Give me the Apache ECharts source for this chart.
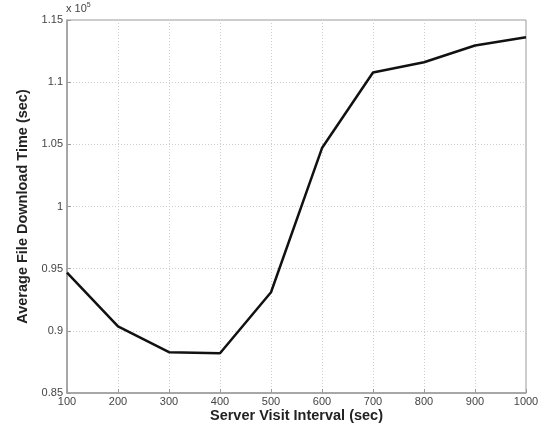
<!DOCTYPE html>
<html>
<head>
<meta charset="utf-8">
<script src="https://cdn.jsdelivr.net/npm/echarts@6/dist/echarts.min.js"></script>
<style>html,body{margin:0;padding:0;background:#fff}#c{width:541px;height:428px}</style>
</head>
<body>
<div id="c"></div>
<script>
// Server visit interval (sec)
var intervals = [100, 200, 300, 400, 500, 600, 700, 800, 900, 1000];
// Average file download time (sec)
var downloadTime = [94680, 90350, 88280, 88200, 93100, 104700, 110780, 111600, 112950, 113620];
var yTicks = [85000, 90000, 95000, 100000, 105000, 110000, 115000];
var xTicks = [100, 200, 300, 400, 500, 600, 700, 800, 900, 1000];

var chart = echarts.init(document.getElementById('c'));
var fontFam = '"Liberation Sans", Arial, sans-serif';
var data = intervals.map(function (x, i) { return [x, downloadTime[i]]; });

chart.setOption({
  backgroundColor: '#fff',
  animation: false,
  grid: { left: 67, top: 20, right: 15, bottom: 35, show: true, borderColor: '#9a9a9a', borderWidth: 1,
          containLabel: false, outerBoundsMode: 'none' },
  xAxis: [{
    type: 'value', min: xTicks[0], max: xTicks[xTicks.length - 1], interval: 100,
    axisLine: { show: true, lineStyle: { color: '#9a9a9a', width: 1.5 } },
    axisTick: { show: true, inside: true, length: 4, lineStyle: { color: '#9a9a9a' } },
    axisLabel: { color: '#444', fontSize: 11, fontFamily: fontFam, margin: 3,
      formatter: function (v) { return String(v); } },
    splitLine: { show: true, lineStyle: { color: '#cfcfcf', type: [1, 2], width: 1 } },
    name: 'Server Visit Interval (sec)', nameLocation: 'middle', nameGap: 15, nameMoveOverlap: false,
    nameTextStyle: { color: '#222', fontSize: 14.5, fontWeight: 'bold', fontFamily: fontFam }
  }],
  yAxis: [{
    type: 'value', min: yTicks[0], max: yTicks[yTicks.length - 1], interval: 5000,
    axisLine: { show: true, lineStyle: { color: '#9a9a9a', width: 1.5 } },
    axisTick: { show: true, inside: true, length: 4, lineStyle: { color: '#9a9a9a' } },
    axisLabel: { color: '#444', fontSize: 11, fontFamily: fontFam, margin: 4,
      formatter: function (v) { return String(Math.round(v / 1000) / 100); } },
    splitLine: { show: true, lineStyle: { color: '#cfcfcf', type: [1, 2], width: 1 } },
    name: 'Average File Download Time (sec)', nameLocation: 'middle', nameGap: 37, nameMoveOverlap: false,
    nameTextStyle: { color: '#222', fontSize: 14.5, fontWeight: 'bold', fontFamily: fontFam }
  }],
  graphic: [{
    type: 'text', left: 66, top: 2,
    style: {
      text: '{a|x 10}{b|5}',
      rich: {
        a: { fontSize: 11, fill: '#444', fontFamily: fontFam },
        b: { fontSize: 7, fill: '#444', fontFamily: fontFam, verticalAlign: 'top', padding: [0, 0, 6, 0] }
      }
    }
  }],
  series: [{
    type: 'line', data: data, symbol: 'none',
    lineStyle: { color: '#111', width: 2.5 }
  }]
});
</script>
</body>
</html>
